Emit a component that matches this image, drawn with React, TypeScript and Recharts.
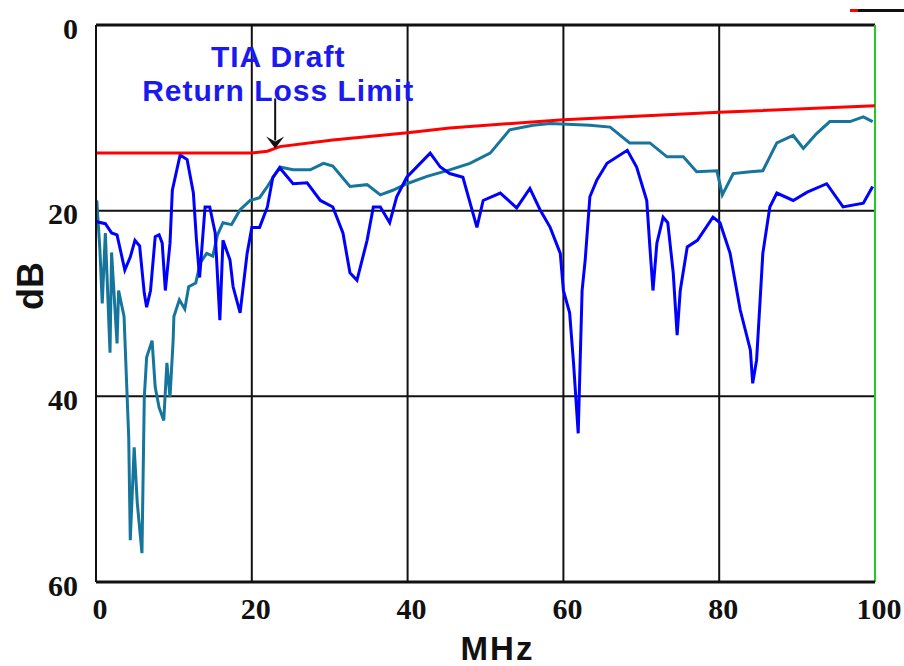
import React from 'react';
import {
  LineChart,
  Line,
  XAxis,
  YAxis,
  CartesianGrid,
  ReferenceLine,
  ReferenceDot,
  Label,
} from 'recharts';

// frequency (MHz) vs return loss (dB)
const limitLine = [
  { f: 0, db: 13.8 },
  { f: 20, db: 13.8 },
  { f: 22, db: 13.6 },
  { f: 23.6, db: 13.1 },
  { f: 30.4, db: 12.4 },
  { f: 40, db: 11.6 },
  { f: 45.4, db: 11.1 },
  { f: 60, db: 10.2 },
  { f: 80, db: 9.4 },
  { f: 100, db: 8.7 },
];

const tealTrace = [
  { f: 0.1, db: 18.9 }, { f: 0.5, db: 24.2 }, { f: 0.8, db: 30 }, { f: 1.2, db: 22.4 },
  { f: 1.8, db: 35.3 }, { f: 2, db: 24.5 }, { f: 2.7, db: 34.3 }, { f: 2.9, db: 28.6 },
  { f: 3.6, db: 31.4 }, { f: 4.2, db: 44.4 }, { f: 4.4, db: 55.5 }, { f: 4.9, db: 45.5 },
  { f: 5.3, db: 51.5 }, { f: 5.9, db: 56.9 }, { f: 6.2, db: 40.1 }, { f: 6.5, db: 35.8 },
  { f: 7.2, db: 34 }, { f: 7.6, db: 39 }, { f: 8.1, db: 41.2 }, { f: 8.7, db: 42.6 },
  { f: 9.1, db: 36.4 }, { f: 9.5, db: 40.1 }, { f: 9.9, db: 34 }, { f: 10, db: 31.4 },
  { f: 10.7, db: 29.6 }, { f: 11.4, db: 30.6 }, { f: 11.9, db: 28.2 }, { f: 12.8, db: 27.8 },
  { f: 13.4, db: 25.6 }, { f: 14.2, db: 24.6 }, { f: 15, db: 24.9 }, { f: 15.6, db: 22.6 },
  { f: 16.3, db: 21.3 }, { f: 17.4, db: 21.5 }, { f: 18.5, db: 19.9 }, { f: 19.8, db: 18.9 },
  { f: 21, db: 18.6 }, { f: 22, db: 17.4 }, { f: 23.6, db: 15.3 },
  { f: 25.3, db: 15.6 }, { f: 27.5, db: 15.6 }, { f: 29.2, db: 14.9 }, { f: 30.4, db: 15.2 },
  { f: 32.6, db: 17.4 }, { f: 34.8, db: 17.2 }, { f: 36.5, db: 18.3 }, { f: 38.1, db: 17.8 },
  { f: 39.9, db: 17.1 }, { f: 42.5, db: 16.3 }, { f: 45.4, db: 15.6 }, { f: 48, db: 14.9 },
  { f: 50.6, db: 13.8 }, { f: 53.1, db: 11.3 }, { f: 56.1, db: 10.8 }, { f: 58.3, db: 10.6 },
  { f: 63.4, db: 10.8 }, { f: 66, db: 11 }, { f: 68.5, db: 12.7 }, { f: 71.1, db: 12.7 },
  { f: 73.3, db: 14.2 }, { f: 75.4, db: 14.2 }, { f: 77.1, db: 15.8 }, { f: 79.7, db: 15.7 },
  { f: 80.4, db: 18.3 }, { f: 81.8, db: 16 }, { f: 84, db: 15.8 }, { f: 85.6, db: 15.7 },
  { f: 87.4, db: 12.7 }, { f: 89.5, db: 11.9 }, { f: 90.8, db: 13.3 }, { f: 92.5, db: 11.7 },
  { f: 94.2, db: 10.4 }, { f: 96.8, db: 10.4 }, { f: 98.5, db: 9.9 }, { f: 99.7, db: 10.4 },
];

const blueTrace = [
  { f: 0.1, db: 21.2 }, { f: 1.2, db: 21.4 }, { f: 2, db: 22.4 }, { f: 2.7, db: 22.6 },
  { f: 3.7, db: 26.4 }, { f: 4.4, db: 25 }, { f: 5, db: 23.2 }, { f: 5.6, db: 23.8 },
  { f: 6.2, db: 28.9 }, { f: 6.5, db: 30.4 }, { f: 7, db: 28.6 }, { f: 7.6, db: 22.8 },
  { f: 8.1, db: 22.6 }, { f: 8.5, db: 23.5 }, { f: 8.9, db: 28.6 }, { f: 9.5, db: 23.5 },
  { f: 9.8, db: 17.8 }, { f: 10.8, db: 14 }, { f: 11.7, db: 14.5 }, { f: 12.5, db: 18.1 },
  { f: 12.9, db: 23.2 }, { f: 13.3, db: 27.2 }, { f: 14, db: 19.6 }, { f: 14.6, db: 19.6 },
  { f: 15.3, db: 22.4 }, { f: 15.9, db: 31.8 }, { f: 16.3, db: 23.2 }, { f: 17.2, db: 25.3 },
  { f: 17.6, db: 28.2 }, { f: 18.5, db: 31 }, { f: 19.4, db: 24.6 }, { f: 20, db: 21.8 },
  { f: 21, db: 21.8 }, { f: 22, db: 19.6 }, { f: 22.7, db: 16.4 }, { f: 23.6, db: 15.4 },
  { f: 25.3, db: 17.1 }, { f: 27.1, db: 17 }, { f: 28.8, db: 18.9 }, { f: 30.4, db: 19.6 },
  { f: 31.7, db: 22.4 }, { f: 32.6, db: 26.7 }, { f: 33.5, db: 27.5 }, { f: 34.8, db: 23.2 },
  { f: 35.6, db: 19.6 }, { f: 36.5, db: 19.6 }, { f: 37.7, db: 21.3 }, { f: 38.6, db: 18.5 },
  { f: 39.9, db: 16.4 }, { f: 42.9, db: 13.8 }, { f: 44.2, db: 15.3 }, { f: 45.4, db: 16 },
  { f: 47.1, db: 16.4 }, { f: 48.9, db: 21.8 }, { f: 49.7, db: 18.9 }, { f: 51.9, db: 18.1 },
  { f: 54, db: 19.7 }, { f: 55.7, db: 17.6 }, { f: 57, db: 19.9 }, { f: 58.3, db: 21.8 },
  { f: 59.6, db: 24.6 }, { f: 60, db: 28.6 }, { f: 60.8, db: 31 }, { f: 61.3, db: 36.4 },
  { f: 61.9, db: 44 }, { f: 62.4, db: 28.6 }, { f: 62.8, db: 25.3 }, { f: 63.4, db: 18.5 },
  { f: 64.3, db: 16.7 }, { f: 65.6, db: 14.9 }, { f: 68.2, db: 13.5 }, { f: 69.4, db: 15.3 },
  { f: 70.7, db: 18.9 }, { f: 71.1, db: 23.9 }, { f: 71.5, db: 28.6 }, { f: 72, db: 23.5 },
  { f: 72.8, db: 20.7 }, { f: 73.4, db: 21.3 }, { f: 74.1, db: 26.7 }, { f: 74.6, db: 33.4 },
  { f: 75, db: 28.6 }, { f: 75.9, db: 23.9 }, { f: 77.2, db: 23.2 }, { f: 79.2, db: 20.7 },
  { f: 80.1, db: 21.3 }, { f: 81.4, db: 24.6 }, { f: 82.7, db: 30.7 }, { f: 84, db: 35 },
  { f: 84.3, db: 38.6 }, { f: 84.8, db: 36.1 }, { f: 85.2, db: 30.4 }, { f: 85.6, db: 24.6 },
  { f: 86.5, db: 19.6 }, { f: 87.4, db: 18.1 }, { f: 89.5, db: 18.9 }, { f: 91.3, db: 18 },
  { f: 93.8, db: 17.1 }, { f: 95.9, db: 19.6 }, { f: 98.5, db: 19.2 }, { f: 99.7, db: 17.4 },
];

const xTicks = [0, 20, 40, 60, 80, 100];
const yTicks = [0, 20, 40, 60];
const noteLines = ['TIA Draft', 'Return Loss Limit'];

const tickFont = { fontFamily: '"Liberation Serif", "Times New Roman", serif', fontWeight: 700, fontSize: 30, fill: '#111' };
const labelFont = { fontFamily: '"Liberation Sans", Arial, sans-serif', fontWeight: 700, fill: '#111' };

const XTick = ({ x, y, payload }: any) => (
  <text x={x + 4} y={y + 26} textAnchor="middle" dominantBaseline="central" style={tickFont}>
    {payload.value}
  </text>
);

const YTick = ({ x, y, payload }: any) => (
  <text x={x - 18} y={y + 3} textAnchor="end" dominantBaseline="central" style={tickFont}>
    {payload.value}
  </text>
);

// arrow + blue caption sitting above the limit line
const Note = ({ cx, cy }: any) => {
  if (typeof cx !== 'number' || typeof cy !== 'number') return null;
  return (
    <g>
      <line x1={cx} y1={cy - 50} x2={cx} y2={cy - 8} stroke="#111" strokeWidth={2} />
      <path d={`M${cx - 9},${cy - 12} L${cx},${cy} L${cx + 9},${cy - 12} L${cx},${cy - 7} Z`} fill="#111" />
      {noteLines.map((t, i) => (
        <text
          key={t}
          x={cx + 3}
          y={cy - 92 + i * 34}
          textAnchor="middle"
          dominantBaseline="central"
          style={{ fontFamily: '"Liberation Sans", Arial, sans-serif', fontWeight: 700, fontSize: 30, letterSpacing: 1, fill: '#1a1af0' }}
        >
          {t}
        </text>
      ))}
    </g>
  );
};

export default function App() {
  return (
    <div style={{ position: 'absolute', left: 0, top: 0, width: 904, height: 666, background: '#fff' }}>
      <div style={{ position: 'absolute', left: 850, top: 9, width: 8, height: 3, background: '#f00' }} />
      <div style={{ position: 'absolute', left: 858, top: 9, width: 46, height: 3, background: '#111' }} />
      <LineChart width={904} height={666} margin={{ top: 25, right: 29, left: 0, bottom: 0 }}>
        <CartesianGrid stroke="#111" strokeWidth={2} />
        <XAxis
          dataKey="f"
          type="number"
          domain={[0, 100]}
          ticks={xTicks}
          height={84}
          tickLine={false}
          tickSize={0}
          tickMargin={0}
          tick={<XTick />}
          axisLine={{ stroke: '#111', strokeWidth: 3 }}
          allowDataOverflow
        >
          <Label
            content={({ viewBox }: any) => (
              <text
                x={viewBox.x + viewBox.width / 2 + 12}
                y={viewBox.y + 66}
                textAnchor="middle"
                dominantBaseline="central"
                style={{ ...labelFont, fontSize: 33, letterSpacing: 2 }}
              >
                MHz
              </text>
            )}
          />
        </XAxis>
        <YAxis
          type="number"
          domain={[0, 60]}
          reversed
          ticks={yTicks}
          width={96}
          tickLine={false}
          tickSize={0}
          tickMargin={0}
          tick={<YTick />}
          axisLine={{ stroke: '#111', strokeWidth: 2 }}
          allowDataOverflow
        >
          <Label
            content={() => (
              <text
                x={30}
                y={286}
                textAnchor="middle"
                dominantBaseline="central"
                transform="rotate(-90 30 286)"
                style={{ ...labelFont, fontSize: 36 }}
              >
                dB
              </text>
            )}
          />
        </YAxis>
        <ReferenceLine y={0} stroke="#111" strokeWidth={3} />
        <ReferenceLine x={100} stroke="#22cc22" strokeWidth={2} />
        <Line
          data={tealTrace}
          dataKey="db"
          type="linear"
          stroke="#16759c"
          strokeWidth={3}
          dot={false}
          isAnimationActive={false}
        />
        <Line
          data={blueTrace}
          dataKey="db"
          type="linear"
          stroke="#0000ff"
          strokeWidth={3}
          dot={false}
          isAnimationActive={false}
        />
        <Line
          data={limitLine}
          dataKey="db"
          type="linear"
          stroke="#ff0000"
          strokeWidth={3}
          dot={false}
          isAnimationActive={false}
        />
        <ReferenceDot x={23} y={13.3} r={0} shape={<Note />} isFront />
      </LineChart>
    </div>
  );
}
